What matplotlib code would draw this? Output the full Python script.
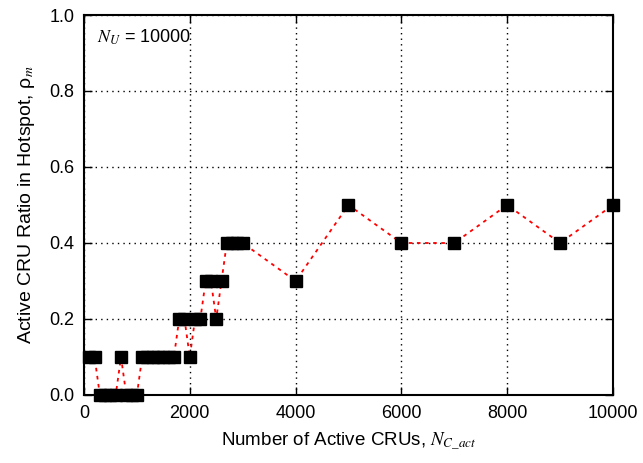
import numpy as np
import matplotlib.pyplot as plt

plt.rcParams['font.family'] = ['Liberation Sans', 'DejaVu Sans']
plt.rcParams['mathtext.fontset'] = 'stix'

# active CRU counts and hotspot ratio
n_act = [100, 200, 300, 400, 500, 600, 700, 800, 900, 1000,
         1100, 1200, 1300, 1400, 1500, 1600, 1700, 1800, 1900, 2000,
         2100, 2200, 2300, 2400, 2500, 2600, 2700, 2800, 2900, 3000,
         4000, 5000, 6000, 7000, 8000, 9000, 10000]
rho_m = [0.1, 0.1, 0.0, 0.0, 0.0, 0.0, 0.1, 0.0, 0.0, 0.0,
         0.1, 0.1, 0.1, 0.1, 0.1, 0.1, 0.1, 0.2, 0.2, 0.1,
         0.2, 0.2, 0.3, 0.3, 0.2, 0.3, 0.4, 0.4, 0.4, 0.4,
         0.3, 0.5, 0.4, 0.4, 0.5, 0.4, 0.5]

fig = plt.figure(figsize=(6.43, 4.63), dpi=100)
ax = fig.add_axes([0.1306, 0.1469, 0.8227, 0.8207])

ax.plot(n_act, rho_m, color='red', linestyle=(0, (2, 2.5)), linewidth=1.3, zorder=2)
ax.plot(n_act, rho_m, linestyle='none', marker='s', markersize=8.3,
        color='black', zorder=3, clip_on=False)

ax.set_xlim(0, 10000)
ax.set_ylim(0, 1.0)
ax.set_xticks(np.arange(0, 10001, 2000))
ax.set_yticks(np.arange(0, 1.01, 0.2))
ax.set_yticklabels(['0.0', '0.2', '0.4', '0.6', '0.8', '1.0'])
ax.grid(True, color='black', linestyle=(0, (1, 3)), linewidth=1.0)
ax.tick_params(direction='in', top=True, right=True, length=6, width=1.0,
               labelsize=13, pad=7)
for s in ax.spines.values():
    s.set_linewidth(1.5)

ax.set_xlabel('Number of Active CRUs, $N_{C\\_act}$', fontsize=13.5, labelpad=6)
ax.set_ylabel('Active CRU Ratio in Hotspot, ρ$_{m}$', fontsize=14, labelpad=9)
ax.text(0.025, 0.942, '$N_U$ = 10000', transform=ax.transAxes,
        fontsize=13, va='center', ha='left')

plt.savefig('out.png', dpi=100)
